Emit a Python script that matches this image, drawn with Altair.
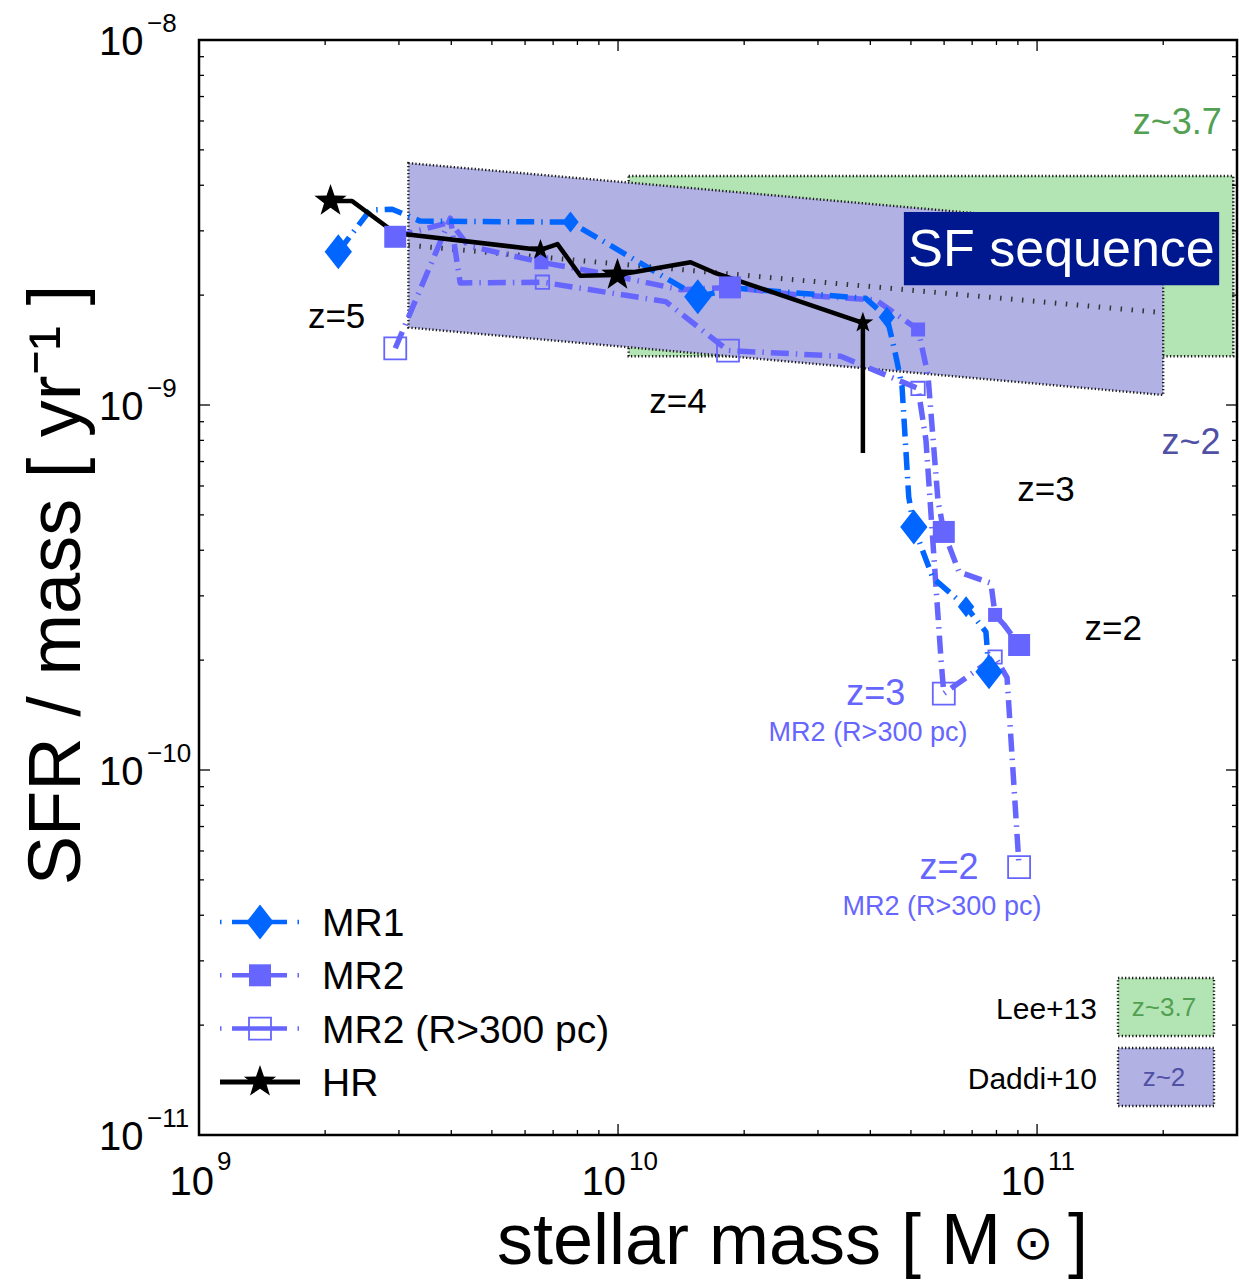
import math
import altair as alt
import pandas as pd

# ---------------------------------------------------------------------------
# Simulation tracks: stellar mass [Msun] vs specific SFR [1/yr].
# *_z holds the redshift where a marker is drawn (None = line vertex only).
# ---------------------------------------------------------------------------
hr_mass = [2.06e9, 2.32e9, 2.94e9, 6.53e9, 7.17e9, 8.13e9, 9.97e9, 1.49e10, 1.69e10, 3.84e10, 3.84e10]
hr_ssfr = [3.62e-9, 3.62e-9, 2.96e-9, 2.66e-9, 2.76e-9, 2.26e-9, 2.27e-9, 2.46e-9, 2.31e-9, 1.68e-9, 7.39e-10]
hr_z = [5, None, None, 4.5, None, None, 4, None, None, 3.5, None]

mr1_mass = [2.15e9, 2.56e9, 2.89e9, 3.37e9, 7.70e9, 1.55e10, 1.91e10, 3.90e10, 4.38e10, 4.58e10,
            4.76e10, 4.94e10, 5.08e10, 5.64e10, 6.77e10, 7.55e10, 7.68e10]
mr1_ssfr = [2.63e-9, 3.42e-9, 3.44e-9, 3.19e-9, 3.17e-9, 1.98e-9, 2.09e-9, 1.96e-9, 1.74e-9, 1.40e-9,
            1.13e-9, 5.60e-10, 4.63e-10, 3.36e-10, 2.80e-10, 2.39e-10, 1.86e-10]
mr1_z = [5, None, None, None, 4.5, 4, None, None, 3.5, None, None, None, 3, None, 2.5, None, 2]

mr2_mass = [2.94e9, 3.98e9, 4.39e9, 6.56e9, 9.08e9, 1.41e10, 1.85e10, 2.73e10, 4.12e10, 5.20e10,
            5.49e10, 5.80e10, 5.99e10, 6.51e10, 7.76e10, 7.94e10, 8.34e10, 9.06e10]
mr2_ssfr = [2.89e-9, 3.17e-9, 2.73e-9, 2.46e-9, 2.30e-9, 2.07e-9, 2.10e-9, 2.00e-9, 1.94e-9, 1.61e-9,
            1.21e-9, 5.49e-10, 4.49e-10, 3.49e-10, 3.25e-10, 2.66e-10, 2.50e-10, 2.20e-10]
mr2_z = [5, None, None, 4.5, None, None, 4, None, None, 3.5, None, None, 3, None, None, 2.5, None, 2]

# MR2 restricted to R > 300 pc
mr2o_mass = [2.94e9, 3.98e9, 4.20e9, 6.60e9, 1.30e10, 1.83e10, 3.40e10, 5.20e10, 5.43e10, 5.67e10,
             5.90e10, 5.99e10, 7.94e10, 8.48e10, 9.06e10]
mr2o_ssfr = [1.43e-9, 3.25e-9, 2.16e-9, 2.17e-9, 1.92e-9, 1.41e-9, 1.36e-9, 1.11e-9, 8.02e-10, 3.88e-10,
             2.00e-10, 1.62e-10, 2.04e-10, 1.79e-10, 5.42e-11]
mr2o_z = [5, None, None, 4.5, None, 4, None, 3.5, None, None, None, 3, 2.5, None, 2]

# Observed star-forming sequences
daddi_mass = [3.16e9, 2.0e11]          # Daddi+10, z~2
daddi_lo = [1.63e-9, 1.065e-9]
daddi_hi = [4.60e-9, 3.02e-9]
daddi_mid = [2.74e-9, 1.79e-9]
lee_mass = [1.06e10, 2.94e11]          # Lee+13, z~3.7
lee_lo = [1.36e-9]
lee_hi = [4.24e-9]

# Axis ticks
x_major = [1e9, 1e10, 1e11]
x_minor = [k * 10.0 ** e for e in (9, 10) for k in range(2, 10)] + [2e11]
y_major = [1e-11, 1e-10, 1e-9, 1e-8]
y_minor = [k * 10.0 ** e for e in (-11, -10, -9) for k in range(2, 10)]

# Annotations (mass, sSFR, text)
black_lab = pd.DataFrame({"m": [2.13e9, 1.39e10, 1.05e11, 1.52e11],
                          "s": [1.76e-9, 1.03e-9, 5.92e-10, 2.46e-10],
                          "t": ["z=5", "z=4", "z=3", "z=2"]})
purple_z = pd.DataFrame({"m": [4.12e10, 6.16e10], "s": [1.64e-10, 5.46e-11], "t": ["z=3", "z=2"]})
purple_sub = pd.DataFrame({"m": [3.95e10, 5.93e10], "s": [1.28e-10, 4.27e-11],
                           "t": ["MR2 (R>300 pc)", "MR2 (R>300 pc)"]})

FONT = "Liberation Sans, Helvetica, Arial, sans-serif"
C_MR1 = "#0066ff"
C_MR2 = "#6666ff"
GREEN_FILL = "#b3e4b3"
PURPLE_FILL = "#b1b1e4"
GREEN_TXT = "#52a052"
PURPLE_TXT = "#5050a5"
NAVY = "#00188f"

W, H = 1038, 1095
xs = alt.Scale(type="log", domain=[1e9, 3e11], nice=False)
ys = alt.Scale(type="log", domain=[1e-11, 1e-8], nice=False)


def X(f):
    return alt.X(f, type="quantitative", scale=xs, axis=None)


def Y(f):
    return alt.Y(f, type="quantitative", scale=ys, axis=None)


# marker shapes as SVG paths in unit coordinates
DIAMOND = "M0,-1L0.78,0L0,1L-0.78,0Z"
_pts = []
for k in range(10):
    r = 1.0 if k % 2 == 0 else 0.40
    a = math.radians(-90 + 36 * k)
    _pts.append(f"{r * math.cos(a):.3f},{r * math.sin(a):.3f}")
STAR = "M" + "L".join(_pts) + "Z"

DASHDOT = [18, 7, 1.5, 7]


def track_df(mass, ssfr, z):
    return pd.DataFrame({"mass": mass, "ssfr": ssfr,
                         "z": pd.Series(z, dtype="float"), "i": range(len(mass))})


def track_line(df, color, width, dash=None):
    kw = dict(color=color, strokeWidth=width, strokeCap="butt", strokeJoin="round")
    if dash:
        kw["strokeDash"] = dash
    return alt.Chart(df).mark_line(**kw).encode(x=X("mass"), y=Y("ssfr"), order="i:Q")


def track_markers(df, shape, big, small, color, filled=True):
    """Large markers at whole redshifts, small ones at the half steps."""
    layers = []
    for cond, size in (("datum.z % 1 == 0", big), ("datum.z % 1 != 0", small)):
        kw = dict(shape=shape, opacity=1, color=color, size=size)
        if filled:
            kw.update(filled=True, strokeWidth=0)
        else:
            kw.update(filled=False, strokeWidth=1.8)
        layers.append(alt.Chart(df)
                      .transform_filter("isValid(datum.z)")
                      .transform_filter(cond)
                      .mark_point(**kw)
                      .encode(x=X("mass"), y=Y("ssfr")))
    return layers


hr = track_df(hr_mass, hr_ssfr, hr_z)
mr1 = track_df(mr1_mass, mr1_ssfr, mr1_z)
mr2 = track_df(mr2_mass, mr2_ssfr, mr2_z)
mr2o = track_df(mr2o_mass, mr2o_ssfr, mr2o_z)

# ---- shaded sequences ----
stipple = dict(stroke="#1a1a1a", strokeDash=[1.3, 2.2], strokeWidth=2.4)
lee_df = pd.DataFrame({"m0": [lee_mass[0]], "m1": [lee_mass[1]], "lo": lee_lo, "hi": lee_hi})
lee = alt.Chart(lee_df).mark_rect(fill=GREEN_FILL, **stipple).encode(x=X("m0"), x2="m1", y=Y("hi"), y2="lo")

daddi_df = pd.DataFrame({"mass": daddi_mass, "lo": daddi_lo, "hi": daddi_hi, "mid": daddi_mid})
daddi = alt.Chart(daddi_df).mark_area(fill=PURPLE_FILL, opacity=1, **stipple).encode(
    x=X("mass"), y=Y("hi"), y2="lo")
daddi_mid_line = alt.Chart(daddi_df).mark_line(color="#333333", strokeWidth=5, strokeDash=[1.5, 9.5],
                                               strokeCap="butt").encode(x=X("mass"), y=Y("mid"))

sf_df = pd.DataFrame({"m0": [4.81e10], "m1": [2.72e11], "hi": [3.38e-9], "lo": [2.13e-9],
                      "mc": [1.144e11], "sc": [2.69e-9], "t": ["SF sequence"]})
sf_box = alt.Chart(sf_df).mark_rect(color=NAVY).encode(x=X("m0"), x2="m1", y=Y("hi"), y2="lo")
sf_txt = alt.Chart(sf_df).mark_text(color="white", fontSize=52, font=FONT, align="center",
                                    baseline="middle", dy=2).encode(x=X("mc"), y=Y("sc"), text="t:N")

band_lab = pd.DataFrame({"m": [2.16e11, 2.33e11], "s": [6.00e-9, 7.97e-10], "t": ["z~3.7", "z~2"],
                         "c": ["lee", "daddi"]})
band_txt = alt.Chart(band_lab).mark_text(fontSize=36, font=FONT, align="center", baseline="middle", dy=2).encode(
    x=X("m"), y=Y("s"), text="t:N",
    color=alt.Color("c:N", scale=alt.Scale(domain=["lee", "daddi"], range=[GREEN_TXT, PURPLE_TXT]), legend=None))

# ---- tracks ----
lines = [
    track_line(mr2o, C_MR2, 5.5, DASHDOT),
    track_line(mr2, C_MR2, 5.5, DASHDOT),
    track_line(mr1, C_MR1, 5.5, DASHDOT),
    track_line(hr, "black", 4.5),
]
markers = (
    track_markers(mr2o, "square", 484, 180, C_MR2, filled=False)
    + track_markers(mr2, "square", 484, 196, C_MR2)
    + track_markers(mr1, DIAMOND, 1225, 441, C_MR1)
    + track_markers(hr, STAR, 1150, 480, "black")
)

# ---- annotations ----
txt_black = alt.Chart(black_lab).mark_text(fontSize=35, font=FONT, color="black", align="center",
                                           baseline="middle", dy=2).encode(x=X("m"), y=Y("s"), text="t:N")
txt_pz = alt.Chart(purple_z).mark_text(fontSize=36, font=FONT, color=C_MR2, align="center",
                                       baseline="middle", dy=2).encode(x=X("m"), y=Y("s"), text="t:N")
txt_ps = alt.Chart(purple_sub).mark_text(fontSize=27, font=FONT, color=C_MR2, align="center",
                                         baseline="middle", dy=2).encode(x=X("m"), y=Y("s"), text="t:N")


# ---- inward ticks on all four sides ----
def ticks(values, length):
    d = pd.DataFrame({"v": values})
    base = alt.Chart(d).mark_rule(color="black", strokeWidth=1.3)
    return [
        base.encode(x=X("v"), y=alt.value(H), y2=alt.value(H - length)),
        base.encode(x=X("v"), y=alt.value(0), y2=alt.value(length)),
    ]


def yticks(values, length):
    d = pd.DataFrame({"v": values})
    base = alt.Chart(d).mark_rule(color="black", strokeWidth=1.3)
    return [
        base.encode(y=Y("v"), x=alt.value(0), x2=alt.value(length)),
        base.encode(y=Y("v"), x=alt.value(W), x2=alt.value(W - length)),
    ]


tick_layers = ticks(x_major, 11) + ticks(x_minor, 5) + yticks(y_major, 11) + yticks(y_minor, 5)

# ---- tick labels: "10" with a raised exponent ----
ylab = pd.DataFrame({"v": y_major, "e": ["\u2212" + str(-round(math.log10(v))) for v in y_major]})
ylab10 = alt.Chart(ylab).mark_text(text="10", fontSize=40, font=FONT, align="left", baseline="alphabetic",
                                   dy=15).encode(x=alt.value(-100), y=Y("v"))
ylabe = alt.Chart(ylab).mark_text(fontSize=26, font=FONT, align="left", baseline="alphabetic",
                                  dy=-8).encode(x=alt.value(-52), y=Y("v"), text="e:N")

xlab = pd.DataFrame({"v": x_major, "e": [str(round(math.log10(v))) for v in x_major]})
xlab_1 = xlab[xlab["e"].str.len() == 1]
xlab_2 = xlab[xlab["e"].str.len() == 2]
xlab_layers = []
for d, off in ((xlab_1, 15), (xlab_2, 8)):
    xlab_layers.append(alt.Chart(d).mark_text(text="10", fontSize=40, font=FONT, align="right",
                                              baseline="alphabetic", dx=off)
                       .encode(x=X("v"), y=alt.value(H + 60)))
    xlab_layers.append(alt.Chart(d).mark_text(fontSize=26, font=FONT, align="left",
                                              baseline="alphabetic", dx=off + 3)
                       .encode(x=X("v"), y=alt.value(H + 35), text="e:N"))

# ---- axis titles ----
# x title set in three pieces so the solar symbol can be drawn smaller
xt_df = pd.DataFrame({"a": ["stellar mass [ M"], "b": ["\u2299"], "c": ["]"]})
xtitle_a = alt.Chart(xt_df).mark_text(fontSize=72, font=FONT, align="right", baseline="alphabetic").encode(
    x=alt.value(802), y=alt.value(H + 129), text="a:N")
xtitle_b = alt.Chart(xt_df).mark_text(fontSize=48, font=FONT, align="center", baseline="middle").encode(
    x=alt.value(834), y=alt.value(H + 110), text="b:N")
xtitle_c = alt.Chart(xt_df).mark_text(fontSize=72, font=FONT, align="left", baseline="alphabetic").encode(
    x=alt.value(869), y=alt.value(H + 129), text="c:N")

yt_df = pd.DataFrame({"yt": ["SFR / mass [ yr\u207b\u00b9 ]"]})
ytitle = alt.Chart(yt_df).mark_text(fontSize=74, font=FONT, align="center", baseline="alphabetic",
                                    angle=270).encode(x=alt.value(-119), y=alt.value(545), text="yt:N")

# ---- legend for the simulation runs (lower left) ----
leg_names = ["MR1", "MR2", "MR2 (R>300 pc)", "HR"]
leg_y = [882 + 53.3 * k for k in range(4)]
leg_layers = []
styles = [
    dict(color=C_MR1, shape=DIAMOND, size=1225, filled=True),
    dict(color=C_MR2, shape="square", size=484, filled=True),
    dict(color=C_MR2, shape="square", size=484, filled=False),
    dict(color="black", shape=STAR, size=1150, filled=True),
]
one = pd.DataFrame({"k": [0]})
for name, yk, st in zip(leg_names, leg_y, styles):
    if name == "HR":
        leg_layers.append(alt.Chart(one).mark_rule(color="black", strokeWidth=5).encode(
            x=alt.value(21), x2=alt.value(101), y=alt.value(yk)))
    else:
        leg_layers.append(alt.Chart(one).mark_rule(color=st["color"], strokeWidth=4.5, strokeCap="butt",
                                                   strokeDash=[1.5, 10.5, 55, 10.5]).encode(
            x=alt.value(21), x2=alt.value(100), y=alt.value(yk)))
    pk = dict(shape=st["shape"], size=st["size"], color=st["color"], opacity=1)
    pk.update(dict(filled=True, strokeWidth=0) if st["filled"] else dict(filled=False, strokeWidth=1.8))
    leg_layers.append(alt.Chart(one).mark_point(**pk).encode(x=alt.value(61), y=alt.value(yk)))
leg_txt_df = pd.DataFrame({"t": leg_names, "y": leg_y})
leg_layers.append(alt.Chart(leg_txt_df).mark_text(fontSize=39, font=FONT, align="left", baseline="middle",
                                                  dy=2).encode(x=alt.value(123), y=alt.Y("y:Q", scale=None),
                                                               text="t:N"))

# ---- legend for the observed sequences (lower right) ----
obs_names = ["Lee+13", "Daddi+10"]
obs_tags = ["z~3.7", "z~2"]
obs_fill = [GREEN_FILL, PURPLE_FILL]
obs_txt_col = [GREEN_TXT, PURPLE_TXT]
obs_top = [938, 1008]
for name, tag, fc, tc, top in zip(obs_names, obs_tags, obs_fill, obs_txt_col, obs_top):
    leg_layers.append(alt.Chart(one).mark_rect(fill=fc, **stipple).encode(
        x=alt.value(919), x2=alt.value(1015), y=alt.value(top), y2=alt.value(top + 58)))
    leg_layers.append(alt.Chart(pd.DataFrame({"t": [tag]})).mark_text(
        fontSize=26, font=FONT, color=tc, align="center", baseline="middle", dy=2).encode(
        x=alt.value(965), y=alt.value(top + 28), text="t:N"))
    leg_layers.append(alt.Chart(pd.DataFrame({"t": [name]})).mark_text(
        fontSize=30, font=FONT, color="black", align="right", baseline="middle", dy=2).encode(
        x=alt.value(898), y=alt.value(top + 30), text="t:N"))

chart = alt.layer(
    lee, daddi, daddi_mid_line, sf_box, sf_txt, band_txt,
    *lines, *markers,
    txt_black, txt_pz, txt_ps,
    *tick_layers, ylab10, ylabe, *xlab_layers, xtitle_a, xtitle_b, xtitle_c, ytitle,
    *leg_layers,
).properties(
    width=W, height=H,
    padding={"left": 199, "top": 40, "right": 2, "bottom": 146},
    autosize=alt.AutoSizeParams(type="none"),
).configure_view(stroke="black", strokeWidth=2.5)

chart.save("out.html", embed_options={"renderer": "svg", "actions": False})
